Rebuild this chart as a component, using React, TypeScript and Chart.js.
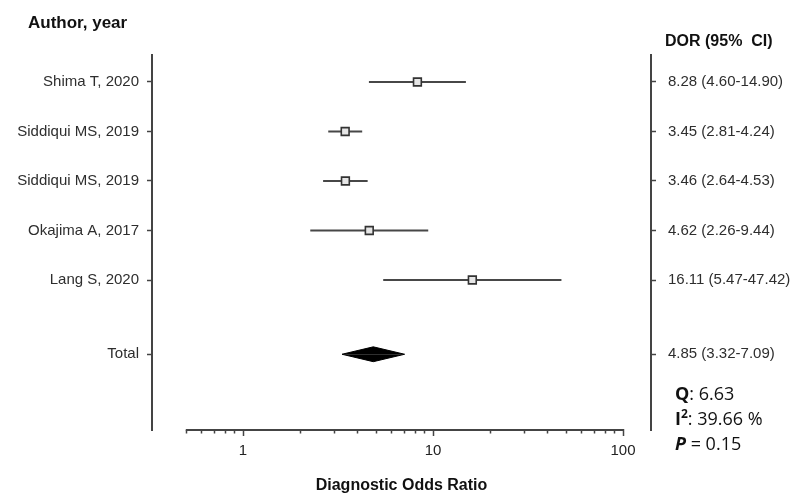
import React, { useEffect, useRef } from "react";
import { Chart, registerables } from "chart.js";

Chart.register(...registerables);

// ---------- data ----------
const studyLabels = ["Shima T, 2020", "Siddiqui MS, 2019", "Siddiqui MS, 2019", "Okajima A, 2017", "Lang S, 2020"];
const studyDor = [8.28, 3.45, 3.46, 4.62, 16.11];
const studyLow = [4.6, 2.81, 2.64, 2.26, 5.47];
const studyHigh = [14.9, 4.24, 4.53, 9.44, 47.42];
const studyDorText = ["8.28 (4.60-14.90)", "3.45 (2.81-4.24)", "3.46 (2.64-4.53)", "4.62 (2.26-9.44)", "16.11 (5.47-47.42)"];
const totalLabel = "Total";
const totalDor = 4.85;
const totalLow = 3.32;
const totalHigh = 7.09;
const totalDorText = "4.85 (3.32-7.09)";
const rowPositions = [0, 1, 2, 3, 4];
const totalRow = 5.5;
const xMajorTicks = [1, 10, 100];
const xMinorTicks = [0.5, 0.6, 0.7, 0.8, 0.9, 2, 3, 4, 5, 6, 7, 8, 9, 20, 30, 40, 50, 60, 70, 80, 90];
const statQ = "6.63";
const statI2 = "39.66 %";
const statP = "0.15";

// ---------- layout ----------
const W = 801;
const H = 497;
const LEFT_W = 152;
const RIGHT_W = 150;
const TOP_PAD = 55;
const BOTTOM_H = 67;
const X_MIN = 0.332;
const X_MAX = 140.4;
const Y_MIN = -0.545;
const Y_MAX = 7.03;
const DIAMOND_HALF = 0.15;

const allRows = [...rowPositions, totalRow];
const allLabels = [...studyLabels, totalLabel];
const allRightTexts = [...studyDorText, totalDorText];

const LABEL_FONT = "'Liberation Sans', Arial, sans-serif";
const STAT_FONT = "'Open Sans', sans-serif";

const overlayPlugin = {
  id: "forestOverlay",
  afterDraw(chart: any) {
    const { ctx, chartArea, scales } = chart;
    const xs = scales.x;
    const y0 = chartArea.bottom;
    ctx.save();
    // x axis line + ticks
    ctx.strokeStyle = "#444";
    ctx.lineWidth = 2;
    ctx.beginPath();
    ctx.moveTo(xs.getPixelForValue(xMinorTicks[0]), y0);
    ctx.lineTo(xs.getPixelForValue(xMajorTicks[xMajorTicks.length - 1]), y0);
    ctx.stroke();
    ctx.lineWidth = 1.5;
    ctx.beginPath();
    for (const v of xMinorTicks) {
      const px = Math.round(xs.getPixelForValue(v)) + 0.5;
      ctx.moveTo(px, y0);
      ctx.lineTo(px, y0 + 3.5);
    }
    for (const v of xMajorTicks) {
      const px = Math.round(xs.getPixelForValue(v)) + 0.5;
      ctx.moveTo(px, y0 - 1);
      ctx.lineTo(px, y0 + 6);
    }
    ctx.stroke();

    // headers
    ctx.fillStyle = "#111";
    ctx.textBaseline = "alphabetic";
    ctx.textAlign = "left";
    ctx.font = `bold 17px ${LABEL_FONT}`;
    ctx.fillText("Author, year", 28, 28);
    ctx.font = `bold 16px ${LABEL_FONT}`;
    ctx.fillText("DOR (95%  CI)", 665, 46);

    // stats
    const sx = 675;
    const reg = `18px ${STAT_FONT}`;
    const bold = `bold 18px ${STAT_FONT}`;
    let x = sx;
    ctx.font = bold;
    ctx.fillText("Q", x, 400);
    x += ctx.measureText("Q").width;
    ctx.font = reg;
    ctx.fillText(": " + statQ, x, 400);

    x = sx;
    ctx.font = bold;
    ctx.fillText("I", x, 425);
    x += ctx.measureText("I").width;
    ctx.font = `bold 12px ${STAT_FONT}`;
    ctx.fillText("2", x, 418);
    x += ctx.measureText("2").width;
    ctx.font = reg;
    ctx.fillText(": " + statI2, x, 425);

    x = sx;
    ctx.font = `italic bold 18px ${STAT_FONT}`;
    ctx.fillText("P", x, 450);
    x += ctx.measureText("P").width;
    ctx.font = reg;
    ctx.fillText(" = " + statP, x, 450);
    ctx.restore();
  },
};

export default function App() {
  const ref = useRef<HTMLCanvasElement | null>(null);

  useEffect(() => {
    if (!ref.current) return;

    const ciDatasets = studyDor.map((_, i) => ({
      type: "line" as const,
      data: [
        { x: studyLow[i], y: rowPositions[i] },
        { x: studyHigh[i], y: rowPositions[i] },
      ],
      borderColor: "#474747",
      borderWidth: 2,
      pointRadius: 0,
      fill: false,
      order: 2,
    }));

    const pointDataset = {
      type: "line" as const,
      data: studyDor.map((v, i) => ({ x: v, y: rowPositions[i] })),
      showLine: false,
      pointStyle: "rect",
      pointRadius: 5.5,
      pointBackgroundColor: "#e6e6e6",
      pointBorderColor: "#333",
      pointBorderWidth: 1.6,
      order: 0,
    };

    const diamondTop = {
      type: "line" as const,
      data: [
        { x: totalLow, y: totalRow },
        { x: totalDor, y: totalRow - DIAMOND_HALF },
        { x: totalHigh, y: totalRow },
      ],
      borderColor: "#000",
      backgroundColor: "#000",
      borderWidth: 1,
      pointRadius: 0,
      tension: 0,
      fill: { value: totalRow },
      order: 1,
    };
    const diamondBottom = {
      type: "line" as const,
      data: [
        { x: totalLow, y: totalRow },
        { x: totalDor, y: totalRow + DIAMOND_HALF },
        { x: totalHigh, y: totalRow },
      ],
      borderColor: "#000",
      backgroundColor: "#000",
      borderWidth: 1,
      pointRadius: 0,
      tension: 0,
      fill: { value: totalRow },
      order: 1,
    };

    const rowTicks = (scale: any) => {
      scale.ticks = allRows.map((v) => ({ value: v }));
    };

    const chart = new Chart(ref.current, {
      type: "line",
      data: { datasets: [pointDataset, ...ciDatasets, diamondTop, diamondBottom] as any },
      plugins: [overlayPlugin],
      options: {
        responsive: false,
        animation: false,
        events: [],
        layout: { padding: { top: TOP_PAD, left: 0, right: 0, bottom: 0 } },
        plugins: {
          legend: { display: false },
          tooltip: { enabled: false },
          title: { display: false },
        },
        scales: {
          x: {
            type: "logarithmic",
            position: "bottom",
            bounds: "data",
            min: X_MIN,
            max: X_MAX,
            afterBuildTicks: (scale: any) => {
              scale.ticks = xMajorTicks.map((v) => ({ value: v, major: true }));
            },
            afterFit: (scale: any) => {
              scale.height = BOTTOM_H;
            },
            grid: { display: false, drawTicks: false },
            border: { display: false },
            ticks: {
              autoSkip: false,
              maxRotation: 0,
              padding: 12,
              color: "#222",
              font: { family: LABEL_FONT, size: 15 },
              callback: (v: any) => String(v),
            },
            title: {
              display: true,
              text: "Diagnostic Odds Ratio",
              color: "#111",
              font: { family: LABEL_FONT, size: 16, weight: "bold" },
              padding: { top: 0, bottom: 2 },
            },
          },
          y: {
            type: "linear",
            position: "left",
            reverse: true,
            bounds: "data",
            min: Y_MIN,
            max: Y_MAX,
            afterBuildTicks: rowTicks,
            afterFit: (scale: any) => {
              scale.width = LEFT_W;
            },
            grid: { drawOnChartArea: false, tickLength: 5, color: "#444", tickWidth: 1.5 },
            border: { display: true, color: "#444", width: 2 },
            ticks: {
              autoSkip: false,
              padding: 8,
              color: "#2e2e2e",
              font: { family: LABEL_FONT, size: 15 },
              callback: (v: any) => allLabels[allRows.indexOf(Number(v))] ?? "",
            },
          },
          y2: {
            type: "linear",
            position: "right",
            reverse: true,
            bounds: "data",
            min: Y_MIN,
            max: Y_MAX,
            afterBuildTicks: rowTicks,
            afterFit: (scale: any) => {
              scale.width = RIGHT_W;
            },
            grid: { drawOnChartArea: false, tickLength: 5, color: "#444", tickWidth: 1.5 },
            border: { display: true, color: "#444", width: 2 },
            ticks: {
              autoSkip: false,
              padding: 12,
              color: "#2e2e2e",
              font: { family: LABEL_FONT, size: 15 },
              callback: (v: any) => allRightTexts[allRows.indexOf(Number(v))] ?? "",
            },
          },
        },
      } as any,
    });

    return () => chart.destroy();
  }, []);

  return (
    <div style={{ position: "absolute", left: 0, top: 0, width: W, height: H, background: "#fff" }}>
      <canvas ref={ref} width={W} height={H} style={{ display: "block", width: W, height: H }} />
    </div>
  );
}
